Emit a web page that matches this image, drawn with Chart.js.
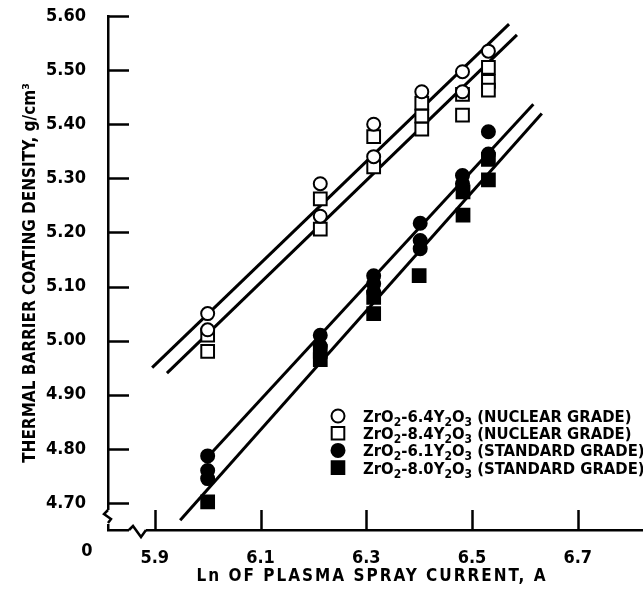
<!DOCTYPE html>
<html>
<head>
  <meta charset="UTF-8">
  <title>Thermal barrier coating density</title>
  <script src="https://cdn.jsdelivr.net/npm/chart.js"></script>
  <style>
    body { margin: 0; background: #fff; }
    #wrap { width: 643px; height: 589px; }
  </style>
</head>
<body>
  <div id="wrap"><canvas id="densityChart" width="643" height="589"></canvas></div>

  <script>
    // ln of plasma spray current vs coating density
    const xTicks = [5.9, 6.1, 6.3, 6.5, 6.7];
    const yTicks = [4.70, 4.80, 4.90, 5.00, 5.10, 5.20, 5.30, 5.40, 5.50, 5.60];

    // ZrO2-6.4Y2O3 (nuclear grade), open circles
    const nuc64X = [6.00, 6.00, 6.213, 6.213, 6.314, 6.314, 6.405, 6.482, 6.482, 6.531];
    const nuc64Y = [5.05, 5.02, 5.29, 5.23, 5.40, 5.34, 5.46, 5.497, 5.46, 5.535];

    // ZrO2-8.4Y2O3 (nuclear grade), open squares
    const nuc84X = [6.00, 6.00, 6.213, 6.213, 6.314, 6.314, 6.405, 6.405, 6.405, 6.482, 6.482, 6.531, 6.531, 6.531];
    const nuc84Y = [5.01, 4.98, 5.262, 5.206, 5.377, 5.321, 5.439, 5.415, 5.391, 5.455, 5.417, 5.505, 5.479, 5.463];

    // ZrO2-6.1Y2O3 (standard grade), filled circles
    const std61X = [6.00, 6.00, 6.00, 6.213, 6.213, 6.314, 6.314, 6.314, 6.402, 6.402, 6.402, 6.482, 6.482, 6.531, 6.531];
    const std61Y = [4.787, 4.76, 4.745, 5.01, 4.99, 5.12, 5.105, 5.09, 5.217, 5.185, 5.17, 5.305, 5.29, 5.386, 5.345];

    // ZrO2-8.0Y2O3 (standard grade), filled squares
    const std80X = [6.00, 6.213, 6.213, 6.314, 6.314, 6.400, 6.483, 6.483, 6.531, 6.531];
    const std80Y = [4.702, 4.98, 4.965, 5.08, 5.05, 5.12, 5.275, 5.232, 5.335, 5.297];

    // fitted lines, end points
    const fit64X = [5.895, 6.57];
    const fit64Y = [4.950, 5.585];
    const fit84X = [5.923, 6.585];
    const fit84Y = [4.940, 5.565];
    const fit61X = [6.00, 6.616];
    const fit61Y = [4.785, 5.437];
    const fit80X = [5.948, 6.632];
    const fit80Y = [4.668, 5.420];

    const legendRows = [
      { style: 'circle', fill: '#fff', parts: ['ZrO', '_2', '-6.4Y', '_2', 'O', '_3', ' (NUCLEAR GRADE)'] },
      { style: 'rect', fill: '#fff', parts: ['ZrO', '_2', '-8.4Y', '_2', 'O', '_3', ' (NUCLEAR GRADE)'] },
      { style: 'circle', fill: '#000', parts: ['ZrO', '_2', '-6.1Y', '_2', 'O', '_3', ' (STANDARD GRADE)'] },
      { style: 'rect', fill: '#000', parts: ['ZrO', '_2', '-8.0Y', '_2', 'O', '_3', ' (STANDARD GRADE)'] }
    ];

    const X_TITLE = 'Ln OF PLASMA SPRAY CURRENT, A';

    const FONT = "'Liberation Sans Narrow', 'DejaVu Sans Condensed', 'Roboto Condensed', sans-serif";

    const pts = (xs, ys) => xs.map((x, i) => ({ x: x, y: ys[i] }));

    function markerSet(label, xs, ys, style, fill) {
      return {
        type: 'scatter',
        label: label,
        data: pts(xs, ys),
        pointStyle: style,
        pointRadius: style === 'rect' ? 9 : 6.5,
        backgroundColor: fill,
        borderColor: '#000',
        borderWidth: 2,
        order: 1
      };
    }

    function fitLine(xs, ys) {
      return {
        type: 'line',
        data: pts(xs, ys),
        borderColor: '#000',
        borderWidth: 3,
        pointRadius: 0,
        fill: false,
        order: 2
      };
    }

    // no extra room for edge labels, the plot box is fixed
    function noPad(s) {
      s.paddingTop = 0;
      s.paddingBottom = 0;
      s.paddingLeft = 0;
      s.paddingRight = 0;
    }

    // inward ticks, axis breaks, the "0", x title and the legend
    const decorations = {
      id: 'decorations',
      afterDraw(chart) {
        const ctx = chart.ctx;
        const a = chart.chartArea;
        const xs = chart.scales.x, ys = chart.scales.y;
        ctx.save();
        ctx.strokeStyle = '#000';
        ctx.lineWidth = 2.5;
        ctx.lineCap = 'butt';

        yTicks.forEach(v => {
          const py = Math.round(ys.getPixelForValue(v)) + 0.5;
          ctx.beginPath();
          ctx.moveTo(a.left, py);
          ctx.lineTo(a.left + 21, py);
          ctx.stroke();
        });
        xTicks.forEach(v => {
          const px = Math.round(xs.getPixelForValue(v)) + 0.5;
          ctx.beginPath();
          ctx.moveTo(px, a.bottom);
          ctx.lineTo(px, a.bottom - 20);
          ctx.stroke();
        });

        // breaks
        ctx.fillStyle = '#fff';
        ctx.fillRect(a.left - 4, a.bottom - 20, 8, 14);
        ctx.fillRect(a.left + 21, a.bottom - 3, 17, 6);
        ctx.beginPath();
        ctx.moveTo(a.left, a.bottom - 20);
        ctx.lineTo(a.left - 4, a.bottom - 16);
        ctx.lineTo(a.left + 3, a.bottom - 11);
        ctx.lineTo(a.left, a.bottom - 7);
        ctx.stroke();
        ctx.beginPath();
        ctx.moveTo(a.left + 21, a.bottom);
        ctx.lineTo(a.left + 25, a.bottom - 4);
        ctx.lineTo(a.left + 33, a.bottom + 7);
        ctx.lineTo(a.left + 38, a.bottom);
        ctx.stroke();

        ctx.fillStyle = '#000';
        ctx.font = 'bold 18px ' + FONT;
        ctx.textAlign = 'center';
        ctx.textBaseline = 'middle';
        ctx.fillText('0', 87, 551);

        ctx.font = 'bold 17px ' + FONT;
        ctx.letterSpacing = '2px';
        ctx.fillText(X_TITLE, 372, 577);
        ctx.letterSpacing = '0px';

        // legend
        const lx = 338, tx = 363;
        legendRows.forEach((row, i) => {
          const cy = 416 + i * 17.2;
          ctx.fillStyle = row.fill;
          ctx.lineWidth = 2;
          ctx.beginPath();
          if (row.style === 'circle') {
            ctx.arc(lx, cy, 6.5, 0, Math.PI * 2);
          } else {
            ctx.rect(lx - 6.3, cy - 6.3, 12.6, 12.6);
          }
          ctx.fill();
          ctx.stroke();
          let x = tx;
          ctx.fillStyle = '#000';
          ctx.textAlign = 'left';
          ctx.textBaseline = 'alphabetic';
          row.parts.forEach(p => {
            const sub = p.startsWith('_');
            const t = sub ? p.slice(1) : p;
            ctx.font = 'bold ' + (sub ? 12 : 16.5) + 'px ' + FONT;
            ctx.fillText(t, x, cy + 6 + (sub ? 4 : 0));
            x += ctx.measureText(t).width;
          });
        });
        ctx.restore();
      }
    };

    new Chart(document.getElementById('densityChart'), {
      data: {
        datasets: [
          fitLine(fit64X, fit64Y),
          fitLine(fit84X, fit84Y),
          fitLine(fit61X, fit61Y),
          fitLine(fit80X, fit80Y),
          markerSet('ZrO2-6.4Y2O3 (NUCLEAR GRADE)', nuc64X, nuc64Y, 'circle', '#fff'),
          markerSet('ZrO2-8.4Y2O3 (NUCLEAR GRADE)', nuc84X, nuc84Y, 'rect', '#fff'),
          markerSet('ZrO2-6.1Y2O3 (STANDARD GRADE)', std61X, std61Y, 'circle', '#000'),
          markerSet('ZrO2-8.0Y2O3 (STANDARD GRADE)', std80X, std80Y, 'rect', '#000')
        ]
      },
      options: {
        responsive: false,
        devicePixelRatio: 1,
        animation: false,
        layout: { autoPadding: false, padding: { top: 16, right: 0, left: 0, bottom: 0 } },
        plugins: {
          legend: { display: false },
          tooltip: { enabled: false }
        },
        scales: {
          x: {
            type: 'linear',
            position: 'bottom',
            min: 5.8115,
            max: 6.8234,
            grid: { display: false },
            border: { display: true, color: '#000', width: 2.5 },
            afterBuildTicks: s => { s.ticks = xTicks.map(v => ({ value: v })); },
            afterFit: s => { s.height = 59; noPad(s); },
            ticks: {
              color: '#000',
              padding: 10,
              font: { family: FONT, size: 18, weight: 'bold' },
              callback: v => v.toFixed(1)
            },
            title: { display: false }
          },
          y: {
            type: 'linear',
            min: 4.65,
            max: 5.60,
            grid: { display: false },
            border: { display: true, color: '#000', width: 2.5 },
            afterBuildTicks: s => { s.ticks = yTicks.map(v => ({ value: v })); },
            afterFit: s => { s.width = 108; noPad(s); },
            ticks: {
              color: '#000',
              padding: 14,
              font: { family: FONT, size: 18, weight: 'bold' },
              callback: v => v.toFixed(2)
            },
            title: {
              display: true,
              text: 'THERMAL BARRIER COATING DENSITY, g/cm\u00B3',
              color: '#000',
              font: { family: FONT, size: 17, weight: 'bold' },
              padding: { top: 20, bottom: 0 }
            }
          }
        }
      },
      plugins: [decorations]
    });
  </script>
</body>
</html>
